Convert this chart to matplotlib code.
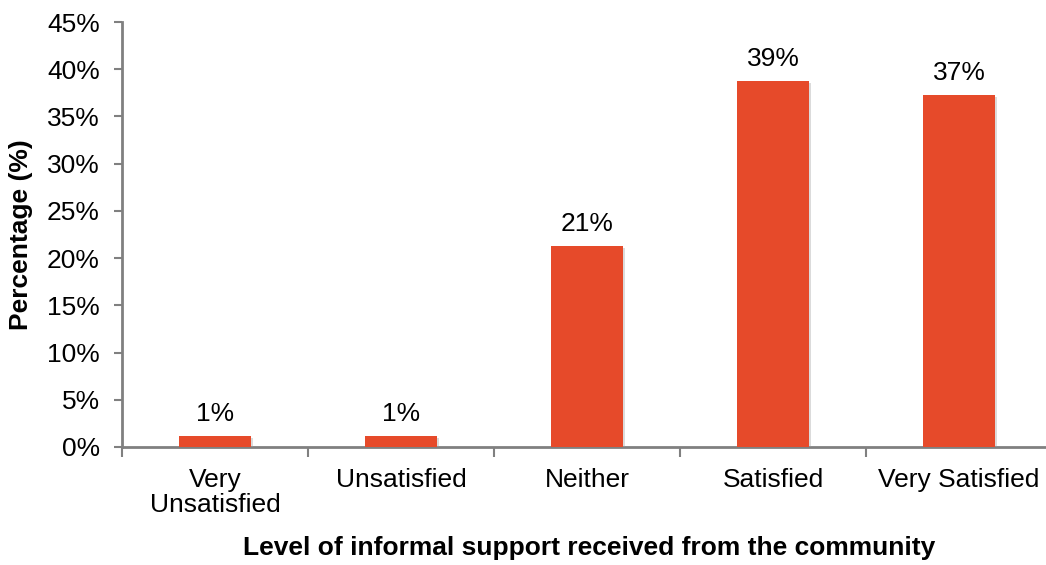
import matplotlib
matplotlib.use("Agg")
import matplotlib.pyplot as plt
import matplotlib.patheffects as pe
from matplotlib.ticker import MultipleLocator, FuncFormatter

categories = ["Very\nUnsatisfied", "Unsatisfied", "Neither", "Satisfied", "Very Satisfied"]
values = [1.2, 1.2, 21.3, 38.8, 37.3]

plt.rcParams["font.family"] = ["Liberation Sans", "DejaVu Sans"]

fig = plt.figure(figsize=(10.46, 5.65), dpi=100)
W, H = 1046, 565
ax = fig.add_axes([122 / W, (H - 447) / H, (1052 - 122) / W, (447 - 22) / H])

x = list(range(len(categories)))
bars = ax.bar(x, values, width=0.39, color="#E64A2A", zorder=3)
for b in bars:
    b.set_path_effects([pe.SimplePatchShadow(offset=(1.5, -1.5), shadow_rgbFace="#9a9a9a", alpha=0.35),
                        pe.Normal()])

for xi, v in zip(x, values):
    ax.annotate(f"{v:.0f}%", (xi, v), xytext=(0, 7), textcoords="offset points",
                ha="center", va="bottom", fontsize=19)

ax.set_xlim(-0.5, len(categories) - 0.5)
ax.set_ylim(0, 45)
ax.yaxis.set_major_locator(MultipleLocator(5))
ax.yaxis.set_major_formatter(FuncFormatter(lambda v, p: f"{v:.0f}%"))

ax.set_xticks(x)
ax.set_xticklabels(categories, fontsize=19, linespacing=1.05)
ax.set_xticks([i + 0.5 for i in range(-1, len(categories))], minor=True)
ax.tick_params(axis="x", which="major", length=0, pad=15)
ax.tick_params(axis="x", which="minor", length=7, width=1.5, color="#808080")
ax.tick_params(axis="y", labelsize=19, length=6, width=1.5, color="#808080", pad=10)

for side in ("top", "right"):
    ax.spines[side].set_visible(False)
for side in ("left", "bottom"):
    ax.spines[side].set_color("#808080")
    ax.spines[side].set_linewidth(2)

fig.text(21 / W, (H - 235) / H, "Percentage (%)", rotation=90,
         ha="center", va="center", fontsize=19, fontweight="bold")
fig.text(589 / W, (H - 548) / H, "Level of informal support received from the community",
         ha="center", va="center", fontsize=19, fontweight="bold")

fig.savefig("out.png", dpi=100)
